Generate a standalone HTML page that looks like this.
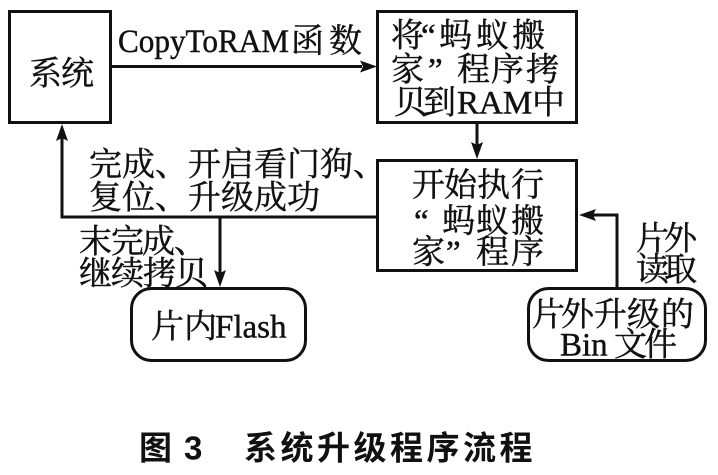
<!DOCTYPE html>
<html><head><meta charset="utf-8">
<style>
html,body{margin:0;padding:0;background:#fff;}
svg{display:block;}
.t{font-family:"Liberation Serif","Noto Serif CJK SC",serif;font-size:33px;fill:#111;stroke:#111;stroke-width:0.45;}
.c{font-family:"Liberation Sans","Noto Sans CJK SC",sans-serif;font-size:33px;font-weight:bold;fill:#111;}
</style></head>
<body>
<svg width="718" height="475" viewBox="0 0 718 475" xmlns="http://www.w3.org/2000/svg">
<rect width="718" height="475" fill="#fff"/>
<g fill="none" stroke="#111" stroke-width="3">
  <rect x="9.5" y="11.5" width="101" height="111"/>
  <rect x="377.5" y="11.5" width="199" height="111"/>
  <rect x="377.5" y="160.5" width="199" height="110"/>
  <rect x="131.5" y="288.5" width="174" height="72" rx="20" ry="20"/>
  <rect x="528.5" y="288.5" width="177" height="72" rx="20" ry="20"/>
  <line x1="111" y1="66.5" x2="362" y2="66.5"/>
  <line x1="477" y1="123" x2="477" y2="146"/>
  <polyline points="377,217 62,217 62,138"/>
  <line x1="220" y1="217" x2="220" y2="273"/>
  <polyline points="617,288 617,215 593,215"/>
</g>
<g fill="#111">
  <polygon points="377,66.5 360,60.5 363,66.5 360,72.5"/>
  <polygon points="477,159 471,142 477,145 483,142"/>
  <polygon points="62,124 56,141 62,138 68,141"/>
  <polygon points="220,287 214,270 220,273 226,270"/>
  <polygon points="579,215 596,209 593,215 596,221"/>
</g>

<!-- 系统 -->
<text class="t" y="84.5"><tspan x="29">系</tspan><tspan x="61">统</tspan></text>
<!-- CopyToRAM函数 -->
<text class="t" y="52"><tspan x="118" textLength="171" lengthAdjust="spacingAndGlyphs">CopyToRAM</tspan></text>
<text class="t" y="52"><tspan x="291">函</tspan><tspan x="329">数</tspan></text>

<!-- box2 -->
<text class="t" y="46.5"><tspan x="391">将</tspan><tspan x="421">“</tspan><tspan x="439">蚂</tspan><tspan x="476">蚁</tspan><tspan x="512">搬</tspan></text>
<text class="t" y="80.5"><tspan x="391">家</tspan><tspan x="428">”</tspan><tspan x="457">程</tspan><tspan x="491">序</tspan><tspan x="526">拷</tspan></text>
<text class="t" y="113.5"><tspan x="394">贝</tspan><tspan x="423">到</tspan><tspan x="457">RAM</tspan><tspan x="532">中</tspan></text>

<!-- box3 -->
<text class="t" y="196"><tspan x="412">开</tspan><tspan x="444">始</tspan><tspan x="477">执</tspan><tspan x="511">行</tspan></text>
<text class="t" y="232"><tspan x="414">“</tspan><tspan x="442">蚂</tspan><tspan x="476">蚁</tspan><tspan x="511">搬</tspan></text>
<text class="t" y="263"><tspan x="412">家</tspan><tspan x="446">”</tspan><tspan x="476">程</tspan><tspan x="511">序</tspan></text>

<!-- labels left -->
<text class="t" y="175.5"><tspan x="89">完</tspan><tspan x="122">成</tspan><tspan x="155">、</tspan><tspan x="188">开</tspan><tspan x="221">启</tspan><tspan x="254">看</tspan><tspan x="287">门</tspan><tspan x="320">狗</tspan><tspan x="353">、</tspan></text>
<text class="t" y="208.5"><tspan x="89">复</tspan><tspan x="122">位</tspan><tspan x="155">、</tspan><tspan x="188">升</tspan><tspan x="221">级</tspan><tspan x="254">成</tspan><tspan x="287">功</tspan></text>
<text class="t" y="252.5"><tspan x="79">末</tspan><tspan x="111">完</tspan><tspan x="142">成</tspan><tspan x="174">、</tspan></text>
<text class="t" y="284.5"><tspan x="79">继</tspan><tspan x="111">续</tspan><tspan x="143">拷</tspan><tspan x="175">贝</tspan></text>

<!-- Flash -->
<text class="t" y="337.5"><tspan x="151">片</tspan><tspan x="184">内</tspan><tspan x="215">Flash</tspan></text>

<!-- right labels -->
<text class="t" y="249.5"><tspan x="636">片</tspan><tspan x="664">外</tspan></text>
<text class="t" y="280.5"><tspan x="636">读</tspan><tspan x="664">取</tspan></text>

<!-- Bin box -->
<text class="t" y="325.5"><tspan x="532">片</tspan><tspan x="561">外</tspan><tspan x="594">升</tspan><tspan x="627">级</tspan><tspan x="661">的</tspan></text>
<text class="t" y="355.5"><tspan x="560">Bin</tspan><tspan x="614">文</tspan><tspan x="644">件</tspan></text>

<!-- caption -->
<text class="c" y="459.5"><tspan x="139">图</tspan><tspan x="184">3</tspan><tspan x="244">系</tspan><tspan x="280.5">统</tspan><tspan x="317">升</tspan><tspan x="353.5">级</tspan><tspan x="390">程</tspan><tspan x="426.5">序</tspan><tspan x="463">流</tspan><tspan x="499.5">程</tspan></text>
</svg>
</body></html>
